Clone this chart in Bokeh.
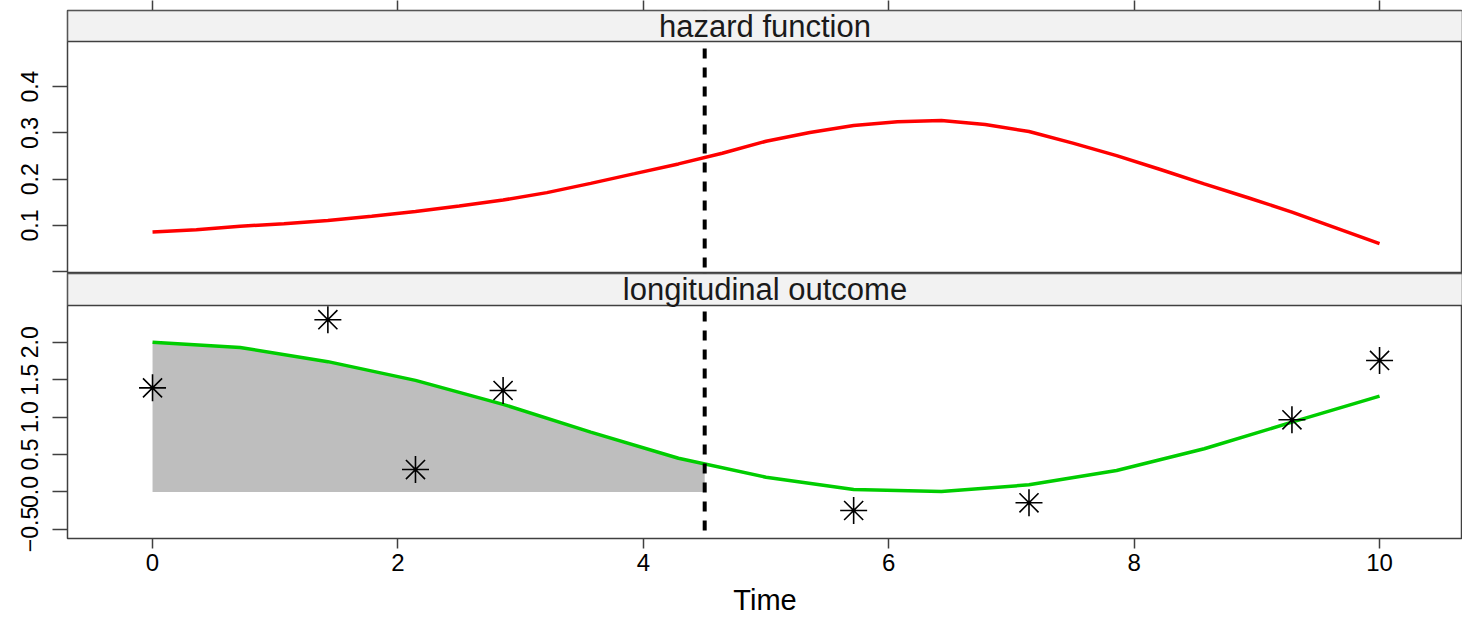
from bokeh.plotting import figure
from bokeh.layouts import column
from bokeh.models import Range1d, FixedTicker, Span, BoxAnnotation, Label, LinearAxis
from bokeh.embed import file_html
from bokeh.resources import INLINE
import numpy as np

# ---------------- data ----------------
haz_time = [0.0, 0.357, 0.714, 1.071, 1.429, 1.786, 2.143, 2.5, 2.857, 3.214,
            3.571, 3.929, 4.286, 4.643, 5.0, 5.357, 5.714, 6.071, 6.429, 6.786,
            7.143, 7.5, 7.857, 8.214, 8.571, 8.929, 9.286, 9.643, 10.0]
hazard = [0.086, 0.091, 0.0985, 0.104, 0.111, 0.120, 0.130, 0.142, 0.155, 0.171,
          0.191, 0.212, 0.233, 0.256, 0.282, 0.301, 0.316, 0.324, 0.327, 0.318,
          0.303, 0.278, 0.251, 0.221, 0.190, 0.160, 0.129, 0.095, 0.061]
lon_time = [0.0, 0.714, 1.429, 2.143, 2.857, 3.571, 4.286, 5.0,
            5.714, 6.429, 7.143, 7.857, 8.571, 9.286, 10.0]
longit = [2.00, 1.93, 1.74, 1.49, 1.17, 0.80, 0.45, 0.197,
          0.033, 0.006, 0.096, 0.287, 0.577, 0.932, 1.28]
obs_time = [0.0, 1.429, 2.143, 2.857, 5.714, 7.143, 9.286, 10.0]
obs_value = [1.39, 2.30, 0.30, 1.355, -0.247, -0.144, 0.964, 1.756]
cut_time = 4.5

strip_titles = ["hazard function", "longitudinal outcome"]
x_ticks = [0, 2, 4, 6, 8, 10]
haz_ticks = [0.1, 0.2, 0.3, 0.4]
haz_unlabelled_ticks = [0.0]
lon_ticks = [-0.5, 0.0, 0.5, 1.0, 1.5, 2.0]
lon_labels = {-0.5: "\u22120.5", 0.0: "0.0", 0.5: "0.5", 1.0: "1.0", 1.5: "1.5", 2.0: "2.0"}

# ---------------- layout constants ----------------
FONT = "Liberation Sans"
W = 1462
BORDER = "#404040"
STRIP_FILL = "#F2F2F2"
x_range = Range1d(-0.693, 10.676)

# y ranges include the strip region above each panel
haz_range = (-0.0037, 0.5644)
haz_strip_bottom = 0.4974
lon_range = (-0.621, 2.917)
lon_strip_bottom = 2.49


def style_tick_axis(ax, tick_out):
    ax.axis_line_color = None
    ax.major_tick_out = tick_out
    ax.major_tick_in = 0
    ax.minor_tick_out = tick_out
    ax.minor_tick_in = 0
    ax.major_tick_line_color = BORDER
    ax.major_tick_line_width = 1.5
    ax.minor_tick_line_color = BORDER
    ax.minor_tick_line_width = 1.5
    ax.major_label_text_font = FONT
    ax.major_label_text_color = "black"


def base_fig(height, yr, border_top, border_bottom):
    p = figure(width=W, height=height, x_range=x_range,
               y_range=Range1d(*yr), output_backend="svg",
               toolbar_location=None, tools="",
               min_border_left=67, min_border_right=0,
               min_border_top=border_top, min_border_bottom=border_bottom,
               x_axis_location=None, y_axis_location="left")
    p.grid.visible = False
    p.background_fill_color = "white"
    p.border_fill_color = "white"
    p.outline_line_color = BORDER
    p.outline_line_width = 1.5
    ax = p.yaxis[0]
    style_tick_axis(ax, 15)
    ax.major_label_orientation = "vertical"
    ax.major_label_text_font_size = "23px"
    ax.major_label_standoff = 14
    return p


def add_strip(p, bottom, top, title):
    p.add_layout(Span(location=cut_time, dimension="height", line_color="black",
                      line_width=4, line_dash="10 9"))
    p.add_layout(BoxAnnotation(left=x_range.start, right=x_range.end,
                               bottom=bottom, top=top,
                               fill_color=STRIP_FILL, fill_alpha=1.0,
                               line_color=BORDER, line_width=1.5, line_alpha=1.0))
    p.add_layout(Label(x=(x_range.start + x_range.end) / 2, y=(bottom + top) / 2,
                       text=title, text_align="center", text_baseline="middle",
                       text_font=FONT, text_font_size="31px", text_color="#1a1a1a"))


# ---------------- top panel: hazard ----------------
p1 = base_fig(273, haz_range, 10, 0)
p1.yaxis[0].ticker = FixedTicker(ticks=haz_ticks, minor_ticks=haz_unlabelled_ticks)
# top axis: tick marks only (no labels), as in the lattice layout
top_ax = LinearAxis(ticker=FixedTicker(ticks=[], minor_ticks=x_ticks))
style_tick_axis(top_ax, 10)
top_ax.major_label_standoff = 0
p1.add_layout(top_ax, "above")
p1.line(haz_time, hazard, line_color="#FF0000", line_width=3.5)
add_strip(p1, haz_strip_bottom, haz_range[1], strip_titles[0])

# ---------------- bottom panel: longitudinal ----------------
p2 = base_fig(346, lon_range, 0, 81)
p2.yaxis[0].ticker = FixedTicker(ticks=lon_ticks, minor_ticks=[])
p2.yaxis[0].major_label_overrides = lon_labels

xax = LinearAxis(ticker=FixedTicker(ticks=x_ticks, minor_ticks=[]))
style_tick_axis(xax, 10)
xax.major_label_text_font_size = "24px"
xax.major_label_standoff = 5
xax.axis_label = "Time"
xax.axis_label_text_font = FONT
xax.axis_label_text_font_size = "29px"
xax.axis_label_text_font_style = "normal"
xax.axis_label_text_color = "black"
xax.axis_label_standoff = 10
p2.add_layout(xax, "below")

# shaded area under the longitudinal curve up to the cut time
tg = np.array(lon_time)
lg = np.array(longit)
mask = tg < cut_time
fill_x = list(tg[mask]) + [cut_time]
fill_y = list(lg[mask]) + [float(np.interp(cut_time, tg, lg))]
p2.varea(x=fill_x, y1=[0.0] * len(fill_x), y2=fill_y, fill_color="#BEBEBE", fill_alpha=1.0)
p2.line(lon_time, longit, line_color="#00CD00", line_width=3.5)
p2.scatter(obs_time, obs_value, marker="asterisk", size=27, line_color="black",
           line_width=1.6)
add_strip(p2, lon_strip_bottom, lon_range[1], strip_titles[1])

layout = column(p1, p2, spacing=0)
open("out.html", "w").write(file_html(layout, INLINE))
